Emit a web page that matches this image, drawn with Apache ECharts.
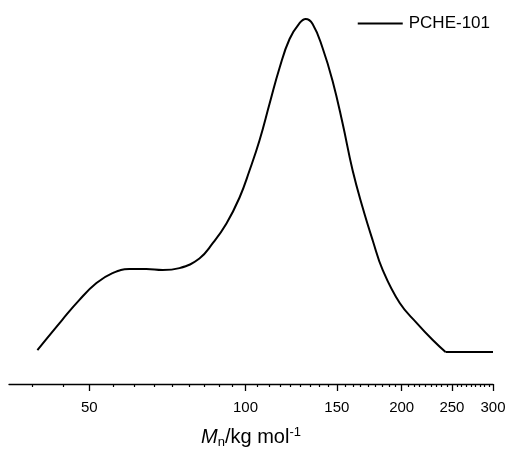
<!DOCTYPE html>
<html>
<head>
<meta charset="utf-8">
<style>html,body{margin:0;padding:0;background:#fff;}#c{width:510px;height:450px;}</style>
<script src="https://cdn.jsdelivr.net/npm/echarts@6/dist/echarts.min.js"></script>
</head>
<body>
<div id="c"></div>
<script>
// Molar mass (kg/mol) sampled along the curve
var massValues = [39.7, 44.3, 47.8, 51.6, 55.4, 59.7, 64.4, 69.2, 74.6, 81.5, 86.4, 91.9, 97.4, 101.8, 106.4, 111.3, 116.3, 121.6, 127.2, 130.6, 134.7, 140.8, 147.2, 153.9, 160.9, 168.2, 175.9, 183.9, 198.3, 213.9, 229.6, 243, 300];
// Normalised signal
var signalValues = [0.006, 0.096, 0.156, 0.207, 0.237, 0.249, 0.249, 0.246, 0.252, 0.281, 0.326, 0.386, 0.464, 0.545, 0.635, 0.746, 0.853, 0.940, 0.988, 1.000, 0.985, 0.913, 0.814, 0.686, 0.545, 0.434, 0.335, 0.246, 0.147, 0.087, 0.036, 0, 0];
var majorTicks = [50, 100, 150, 200, 250, 300];
var minorTicks = [38.89, 44.44, 55.56, 61.11, 66.67, 72.22, 77.78, 83.33, 88.89, 94.44,
  105.56, 111.11, 116.67, 122.22, 127.78, 133.33, 138.89, 144.44,
  155.56, 161.11, 166.67, 172.22, 177.78, 183.33, 188.89, 194.44,
  205.56, 211.11, 216.67, 222.22, 227.78, 233.33, 238.89, 244.44,
  255.56, 261.11, 266.67, 272.22, 277.78, 283.33, 288.89, 294.44];
var axisMin = 35, axisMax = 300;
var seriesName = 'PCHE-101';

var ln = Math.log;
var chart = echarts.init(document.getElementById('c'));
var data = massValues.map(function (m, i) { return [ln(m), signalValues[i]]; });
// smooth peak part up to the first zero, then the straight baseline
var cut = signalValues.indexOf(0);
var peakPart = data.slice(0, cut + 1);
var flatPart = data.slice(cut);
var font = 'Arial, "Liberation Sans", Helvetica, sans-serif';
var lineSt = { color: '#000', width: 2 };
chart.setOption({
  animation: false,
  textStyle: { fontFamily: font },
  grid: { left: 9, right: 17, top: 0, bottom: 66, outerBoundsMode: 'none', containLabel: false },
  legend: {
    right: 15, top: 10, itemWidth: 45, itemHeight: 2, itemGap: 5,
    icon: 'rect',
    itemStyle: { color: '#000' },
    textStyle: { fontSize: 17, color: '#000', fontFamily: font, padding: [0, 0, 0, 1] },
    data: [seriesName]
  },
  xAxis: [{
    type: 'value', min: ln(axisMin), max: ln(axisMax),
    splitLine: { show: false },
    axisLine: { onZero: false, lineStyle: { color: '#000', width: 1.3 } },
    axisTick: { show: true, length: 7, lineStyle: { color: '#000', width: 1.3 },
      customValues: majorTicks.map(ln) },
    axisLabel: { customValues: majorTicks.map(ln), fontSize: 15, color: '#000', margin: 16,
      fontFamily: font,
      formatter: function (v) { return String(Math.round(Math.exp(v))); } },
    name: '{i|M}{sub|n}{t|/kg mol}{sup|-1}',
    nameLocation: 'middle', nameGap: 40,
    nameTextStyle: {
      fontFamily: font, color: '#000',
      rich: {
        i: { fontSize: 20, fontStyle: 'italic', fontFamily: font, color: '#000', lineHeight: 26 },
        t: { fontSize: 20, fontFamily: font, color: '#000', lineHeight: 26 },
        sub: { fontSize: 13, fontFamily: font, color: '#000', padding: [10, 0, 0, 0], lineHeight: 26 },
        sup: { fontSize: 13, fontFamily: font, color: '#000', padding: [0, 0, 10, 0], lineHeight: 26 }
      }
    }
  }, {
    type: 'value', min: ln(axisMin), max: ln(axisMax), position: 'bottom',
    splitLine: { show: false },
    axisLine: { show: false, onZero: false },
    axisTick: { show: true, length: 3, lineStyle: { color: '#000', width: 1.2 },
      customValues: minorTicks.map(ln) },
    axisLabel: { show: false }
  }],
  yAxis: { type: 'value', min: -0.096, max: 1.057, show: false, splitLine: { show: false } },
  series: [{
    name: seriesName, type: 'line', data: peakPart, smooth: 0.45,
    showSymbol: false, symbol: 'none',
    lineStyle: lineSt, itemStyle: { color: '#000' }
  }, {
    name: seriesName, type: 'line', data: flatPart, smooth: false,
    showSymbol: false, symbol: 'none',
    lineStyle: lineSt, itemStyle: { color: '#000' }
  }]
});
</script>
</body>
</html>
